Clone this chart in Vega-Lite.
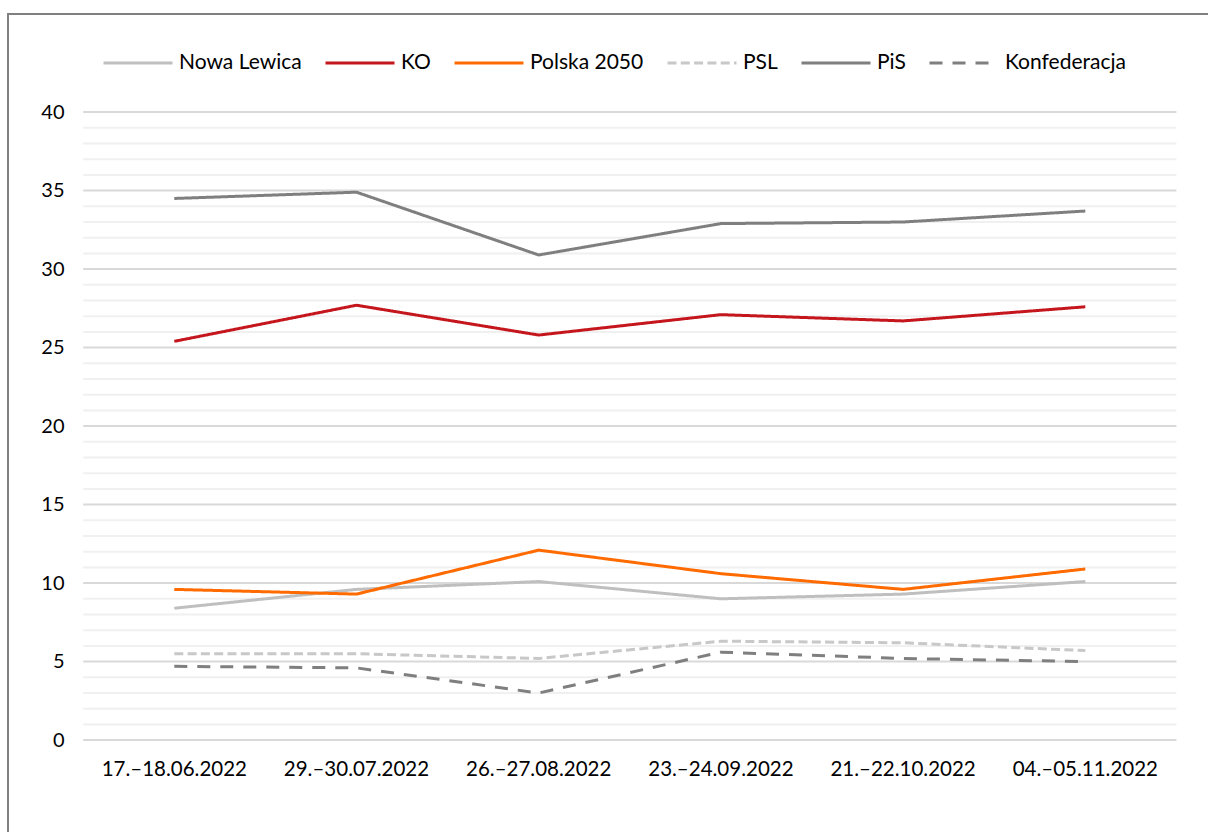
{
  "$schema": "https://vega.github.io/schema/vega-lite/v6.json",
  "width": 1243.6,
  "height": 851.7,
  "autosize": {"type": "none"},
  "padding": {"left": 8, "top": 14, "right": -43.6, "bottom": -33.7},
  "background": "white",
  "config": {
    "view": {"stroke": "#808080", "strokeWidth": 2},
    "font": "Lato",
    "axisX": {
      "title": null,
      "labelAngle": 0,
      "labelAlign": "center",
      "labelBaseline": "top",
      "bandPosition": 0.5,
      "domain": false,
      "ticks": false,
      "tickSize": 0,
      "grid": false,
      "offset": -125.6,
      "labelPadding": 19,
      "labelFont": "Lato",
      "labelFontSize": 20.5,
      "labelColor": "#000000",
      "labelOverlap": false
    },
    "axisY": {
      "title": null,
      "grid": false,
      "domain": false,
      "ticks": false,
      "tickSize": 0,
      "offset": -76,
      "labelPadding": 20,
      "labelFont": "Lato",
      "labelFontSize": 20,
      "labelColor": "#000000"
    },
    "legend": {
      "orient": "none",
      "legendX": 94,
      "legendY": 13,
      "direction": "horizontal",
      "columns": 6,
      "symbolSize": 4761,
      "symbolStrokeWidth": 3,
      "labelFontSize": 21,
      "labelFont": "Lato",
      "labelColor": "#000000",
      "labelOffset": 5,
      "columnPadding": 17,
      "title": null
    }
  },
  "datasets": {
    "major": [{"g": 0}, {"g": 5}, {"g": 10}, {"g": 15}, {"g": 20}, {"g": 25}, {"g": 30}, {"g": 35}, {"g": 40}],
    "minor": [{"g": 1}, {"g": 2}, {"g": 3}, {"g": 4}, {"g": 6}, {"g": 7}, {"g": 8}, {"g": 9}, {"g": 11}, {"g": 12}, {"g": 13}, {"g": 14}, {"g": 16}, {"g": 17}, {"g": 18}, {"g": 19}, {"g": 21}, {"g": 22}, {"g": 23}, {"g": 24}, {"g": 26}, {"g": 27}, {"g": 28}, {"g": 29}, {"g": 31}, {"g": 32}, {"g": 33}, {"g": 34}, {"g": 36}, {"g": 37}, {"g": 38}, {"g": 39}],
    "polls": [
      {"date": "17.–18.06.2022", "party": "Nowa Lewica", "value": 8.4},
      {"date": "29.–30.07.2022", "party": "Nowa Lewica", "value": 9.6},
      {"date": "26.–27.08.2022", "party": "Nowa Lewica", "value": 10.1},
      {"date": "23.–24.09.2022", "party": "Nowa Lewica", "value": 9.0},
      {"date": "21.–22.10.2022", "party": "Nowa Lewica", "value": 9.3},
      {"date": "04.–05.11.2022", "party": "Nowa Lewica", "value": 10.1},
      {"date": "17.–18.06.2022", "party": "KO", "value": 25.4},
      {"date": "29.–30.07.2022", "party": "KO", "value": 27.7},
      {"date": "26.–27.08.2022", "party": "KO", "value": 25.8},
      {"date": "23.–24.09.2022", "party": "KO", "value": 27.1},
      {"date": "21.–22.10.2022", "party": "KO", "value": 26.7},
      {"date": "04.–05.11.2022", "party": "KO", "value": 27.6},
      {"date": "17.–18.06.2022", "party": "Polska 2050", "value": 9.6},
      {"date": "29.–30.07.2022", "party": "Polska 2050", "value": 9.3},
      {"date": "26.–27.08.2022", "party": "Polska 2050", "value": 12.1},
      {"date": "23.–24.09.2022", "party": "Polska 2050", "value": 10.6},
      {"date": "21.–22.10.2022", "party": "Polska 2050", "value": 9.6},
      {"date": "04.–05.11.2022", "party": "Polska 2050", "value": 10.9},
      {"date": "17.–18.06.2022", "party": "PSL", "value": 5.5},
      {"date": "29.–30.07.2022", "party": "PSL", "value": 5.5},
      {"date": "26.–27.08.2022", "party": "PSL", "value": 5.2},
      {"date": "23.–24.09.2022", "party": "PSL", "value": 6.3},
      {"date": "21.–22.10.2022", "party": "PSL", "value": 6.2},
      {"date": "04.–05.11.2022", "party": "PSL", "value": 5.7},
      {"date": "17.–18.06.2022", "party": "PiS", "value": 34.5},
      {"date": "29.–30.07.2022", "party": "PiS", "value": 34.9},
      {"date": "26.–27.08.2022", "party": "PiS", "value": 30.9},
      {"date": "23.–24.09.2022", "party": "PiS", "value": 32.9},
      {"date": "21.–22.10.2022", "party": "PiS", "value": 33.0},
      {"date": "04.–05.11.2022", "party": "PiS", "value": 33.7},
      {"date": "17.–18.06.2022", "party": "Konfederacja", "value": 4.7},
      {"date": "29.–30.07.2022", "party": "Konfederacja", "value": 4.6},
      {"date": "26.–27.08.2022", "party": "Konfederacja", "value": 3.0},
      {"date": "23.–24.09.2022", "party": "Konfederacja", "value": 5.6},
      {"date": "21.–22.10.2022", "party": "Konfederacja", "value": 5.2},
      {"date": "04.–05.11.2022", "party": "Konfederacja", "value": 5.0}
    ]
  },
  "encoding": {
    "y": {
      "type": "quantitative",
      "scale": {"domain": [-8, 46.25], "nice": false, "zero": false},
      "axis": {"values": [0, 5, 10, 15, 20, 25, 30, 35, 40]}
    }
  },
  "layer": [
    {
      "data": {"name": "minor"},
      "mark": {"type": "rule", "stroke": "#f0f0f0", "strokeWidth": 2},
      "encoding": {
        "y": {"field": "g", "type": "quantitative"},
        "x": {"datum": "17.–18.06.2022", "type": "nominal", "bandPosition": 0},
        "x2": {"datum": "04.–05.11.2022", "bandPosition": 1}
      }
    },
    {
      "data": {"name": "major"},
      "mark": {"type": "rule", "stroke": "#d9d9d9", "strokeWidth": 2},
      "encoding": {
        "y": {"field": "g", "type": "quantitative"},
        "x": {"datum": "17.–18.06.2022", "type": "nominal", "bandPosition": 0},
        "x2": {"datum": "04.–05.11.2022", "bandPosition": 1}
      }
    },
    {
      "data": {"name": "polls"},
      "mark": {"type": "line", "strokeWidth": 3},
      "encoding": {
        "x": {
          "field": "date",
          "type": "nominal",
          "bandPosition": 0.5,
          "scale": {
            "type": "band",
            "domain": ["17.–18.06.2022", "29.–30.07.2022", "26.–27.08.2022", "23.–24.09.2022", "21.–22.10.2022", "04.–05.11.2022"],
            "paddingInner": 0,
            "paddingOuter": 0.4127
          },
          "axis": {"bandPosition": 0.5, "labelAlign": "center"}
        },
        "y": {"field": "value", "type": "quantitative"},
        "color": {
          "field": "party",
          "type": "nominal",
          "scale": {
            "domain": ["Nowa Lewica", "KO", "Polska 2050", "PSL", "PiS", "Konfederacja"],
            "range": ["#bfbfbf", "#c4161c", "#ff6b00", "#c8c8c8", "#7f7f7f", "#7f7f7f"]
          },
          "legend": {"title": null}
        },
        "strokeDash": {
          "field": "party",
          "type": "nominal",
          "scale": {
            "domain": ["Nowa Lewica", "KO", "Polska 2050", "PSL", "PiS", "Konfederacja"],
            "range": [[1, 0], [1, 0], [1, 0], [9, 4.3], [1, 0], [13, 10]]
          },
          "legend": {"title": null}
        }
      }
    }
  ]
}
